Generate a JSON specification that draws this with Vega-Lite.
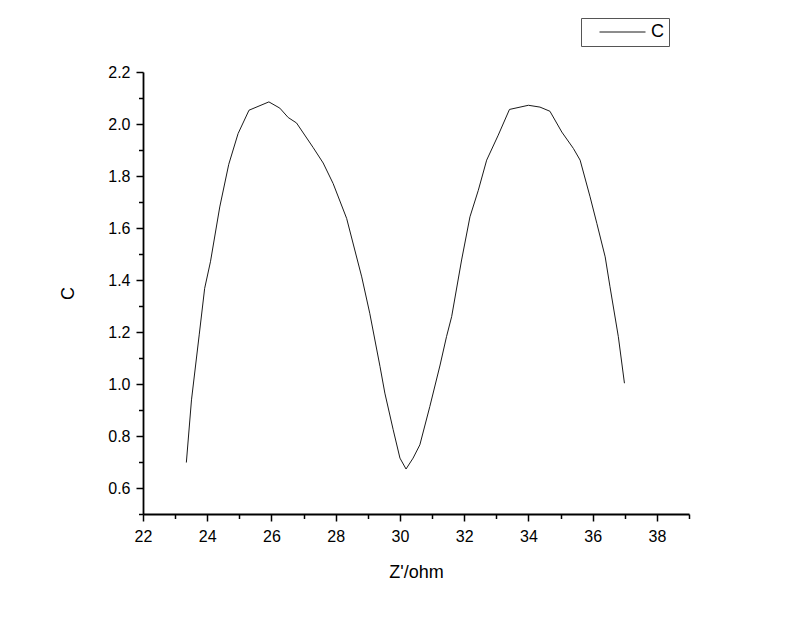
{
  "$schema": "https://vega.github.io/schema/vega-lite/v6.json",
  "autosize": "none",
  "width": 546,
  "height": 442,
  "padding": {"left": 143, "top": 72, "right": 111, "bottom": 103},
  "background": "white",
  "config": {
    "view": {"stroke": null},
    "font": "Liberation Sans",
    "axis": {
      "domainColor": "black",
      "domainWidth": 1.8,
      "tickColor": "black",
      "tickWidth": 1.5,
      "grid": false,
      "labelFont": "Liberation Sans",
      "labelFontSize": 16,
      "labelColor": "black",
      "titleFont": "Liberation Sans",
      "titleFontSize": 18,
      "titleFontWeight": "normal",
      "titleColor": "black",
      "labelFlush": false,
      "labelOverlap": false
    },
    "legend": {
      "labelFont": "Liberation Sans",
      "labelFontSize": 18,
      "labelColor": "black"
    }
  },
  "data": {
    "values": [
      {"z": 23.35, "c": 0.698},
      {"z": 23.51, "c": 0.939},
      {"z": 23.75, "c": 1.189},
      {"z": 23.92, "c": 1.368},
      {"z": 24.10, "c": 1.470},
      {"z": 24.39, "c": 1.681},
      {"z": 24.67, "c": 1.845},
      {"z": 24.96, "c": 1.963},
      {"z": 25.30, "c": 2.053},
      {"z": 25.92, "c": 2.085},
      {"z": 26.26, "c": 2.061},
      {"z": 26.52, "c": 2.025},
      {"z": 26.78, "c": 2.004},
      {"z": 27.30, "c": 1.909},
      {"z": 27.61, "c": 1.850},
      {"z": 27.92, "c": 1.771},
      {"z": 28.34, "c": 1.637},
      {"z": 28.81, "c": 1.412},
      {"z": 29.06, "c": 1.272},
      {"z": 29.38, "c": 1.067},
      {"z": 29.53, "c": 0.965},
      {"z": 29.79, "c": 0.824},
      {"z": 30.00, "c": 0.715},
      {"z": 30.19, "c": 0.673},
      {"z": 30.41, "c": 0.715},
      {"z": 30.62, "c": 0.766},
      {"z": 30.93, "c": 0.913},
      {"z": 31.25, "c": 1.073},
      {"z": 31.45, "c": 1.182},
      {"z": 31.61, "c": 1.259},
      {"z": 31.92, "c": 1.477},
      {"z": 32.18, "c": 1.643},
      {"z": 32.44, "c": 1.745},
      {"z": 32.70, "c": 1.861},
      {"z": 33.06, "c": 1.957},
      {"z": 33.41, "c": 2.056},
      {"z": 34.00, "c": 2.072},
      {"z": 34.36, "c": 2.065},
      {"z": 34.67, "c": 2.049},
      {"z": 35.04, "c": 1.969},
      {"z": 35.40, "c": 1.906},
      {"z": 35.61, "c": 1.861},
      {"z": 35.92, "c": 1.720},
      {"z": 36.13, "c": 1.618},
      {"z": 36.39, "c": 1.489},
      {"z": 36.54, "c": 1.374},
      {"z": 36.80, "c": 1.182},
      {"z": 36.99, "c": 1.003}
    ]
  },
  "mark": {"type": "line", "strokeWidth": 1, "interpolate": "linear"},
  "encoding": {
    "x": {
      "field": "z",
      "type": "quantitative",
      "title": "Z'/ohm",
      "scale": {"domain": [22, 39], "nice": false, "zero": false},
      "axis": {
        "values": [22, 23, 24, 25, 26, 27, 28, 29, 30, 31, 32, 33, 34, 35, 36, 37, 38, 39],
        "labelExpr": "datum.value % 2 === 0 ? datum.label : ''",
        "tickSize": {"condition": {"test": "datum.value % 2 === 0", "value": 7}, "value": 4.5},
        "labelPadding": 7,
        "titleY": 63,
        "titleBaseline": "alphabetic"
      }
    },
    "y": {
      "field": "c",
      "type": "quantitative",
      "title": "C",
      "scale": {"domain": [0.5, 2.2], "nice": false, "zero": false},
      "axis": {
        "values": [0.5, 0.6, 0.7, 0.8, 0.9, 1.0, 1.1, 1.2, 1.3, 1.4, 1.5, 1.6, 1.7, 1.8, 1.9, 2.0, 2.1, 2.2],
        "format": ".1f",
        "labelExpr": "round(datum.value * 10) % 2 === 0 ? datum.label : ''",
        "tickSize": {"condition": {"test": "round(datum.value * 10) % 2 === 0", "value": 7}, "value": 4.5},
        "labelPadding": 6,
        "titleX": -75,
        "titleY": 221,
        "titleBaseline": "middle",
        "titleAngle": -90
      }
    },
    "color": {
      "datum": "C",
      "type": "nominal",
      "scale": {"domain": ["C"], "range": ["#1a1a1a"]},
      "legend": {
        "title": null,
        "orient": "none",
        "legendX": 438,
        "legendY": -54,
        "strokeColor": "#555555",
        "padding": 5,
        "clipHeight": 18,
        "symbolType": "stroke",
        "symbolSize": 2116,
        "symbolStrokeWidth": 1,
        "symbolOffset": 13,
        "labelOffset": 5
      }
    }
  }
}
